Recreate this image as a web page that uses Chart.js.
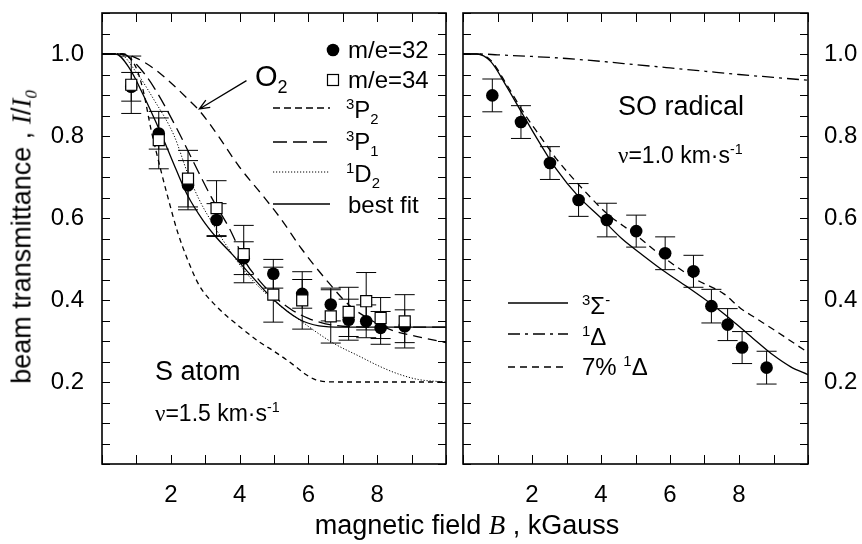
<!DOCTYPE html>
<html>
<head>
<meta charset="utf-8">
<script src="https://cdn.jsdelivr.net/npm/chart.js@4.4.1/dist/chart.umd.min.js"></script>
<style>
body{margin:0;background:#fff;}
#wrap{position:relative;width:862px;height:544px;overflow:hidden;font-family:'Liberation Sans',Arial,sans-serif;color:#000;}
canvas{position:absolute;top:0;}
.t{position:absolute;white-space:nowrap;line-height:1;}
.serif{font-family:'Liberation Serif','Times New Roman',serif;}
sup,sub{font-size:0.62em;line-height:0;}
</style>
</head>
<body>
<div id="wrap">
<canvas id="left" width="455" height="544" style="left:0"></canvas>
<canvas id="right" width="407" height="544" style="left:455px"></canvas>

<div class="t" style="left:22px;top:237px;font-size:27px;transform:translate(-50%,-50%) rotate(-90deg)">beam transmittance , <i class="serif">I</i>/<i class="serif">I<sub>0</sub></i></div>
<div class="t" style="left:467px;top:525px;font-size:27px;transform:translate(-50%,-50%)">magnetic field <i class="serif">B</i> , kGauss</div>

<div class="t" style="left:348px;top:38px;font-size:24px">m/e=32</div>
<div class="t" style="left:348px;top:68px;font-size:24px">m/e=34</div>
<div class="t" style="left:346px;top:98px;font-size:24px"><sup>3</sup>P<sub>2</sub></div>
<div class="t" style="left:346px;top:130px;font-size:24px"><sup>3</sup>P<sub>1</sub></div>
<div class="t" style="left:346px;top:162px;font-size:24px"><sup>1</sup>D<sub>2</sub></div>
<div class="t" style="left:348px;top:193px;font-size:24px">best fit</div>
<div class="t" style="left:255px;top:62px;font-size:29px">O<sub>2</sub></div>
<div class="t" style="left:155px;top:358px;font-size:27px">S atom</div>
<div class="t" style="left:155px;top:402px;font-size:23px"><span class="serif">ν</span>=1.5 km·s<sup>-1</sup></div>

<div class="t" style="left:618px;top:93px;font-size:27px">SO radical</div>
<div class="t" style="left:618px;top:144px;font-size:23px"><span class="serif">ν</span>=1.0 km·s<sup>-1</sup></div>
<div class="t" style="left:582px;top:294px;font-size:24px"><sup>3</sup>Σ<sup>-</sup></div>
<div class="t" style="left:582px;top:325px;font-size:24px"><sup>1</sup>Δ</div>
<div class="t" style="left:582px;top:355px;font-size:24px">7% <sup>1</sup>Δ</div>
</div>

<script>
// S atom, measured points (m/e=32 filled, m/e=34 open)
const fieldB = [0.85, 1.65, 2.5, 3.33, 4.12, 4.98, 5.82, 6.65, 7.17, 7.68, 8.1, 8.8];
const me32 = [0.92, 0.806, 0.68, 0.595, 0.502, 0.464, 0.415, 0.389, 0.352, 0.348, 0.332, 0.336];
const me32Err = [0.035, 0.038, 0.06, 0.04, 0.04, 0.035, 0.035, 0.04, 0.05, 0.04, 0.04, 0.04];
const me34 = [0.925, 0.79, 0.696, 0.624, 0.512, 0.413, 0.399, 0.36, 0.371, 0.397, 0.356, 0.348];
const me34Err = [0.07, 0.07, 0.069, 0.067, 0.07, 0.067, 0.07, 0.065, 0.06, 0.07, 0.05, 0.065];

// S atom model curves
const p2B = [0, 0.5, 0.8, 1.0, 1.2, 1.43, 1.7, 1.91, 2.2, 2.49, 2.83, 3.32, 4.0, 4.57, 5.0, 5.35, 5.7, 5.95, 6.2, 6.5, 7, 8, 9, 10];
const p2T = [1, 1, 0.99, 0.965, 0.91, 0.814, 0.72, 0.652, 0.565, 0.498, 0.435, 0.385, 0.335, 0.298, 0.275, 0.255, 0.233, 0.217, 0.206, 0.201, 0.2, 0.2, 0.2, 0.2];
const p1B = [0, 0.6, 1.0, 1.5, 2.2, 2.64, 3.17, 3.7, 4.19, 4.6, 5.06, 5.5, 6.0, 6.5, 7, 8, 9, 10];
const p1T = [1, 1, 0.975, 0.92, 0.814, 0.74, 0.652, 0.575, 0.49, 0.445, 0.405, 0.377, 0.355, 0.342, 0.336, 0.334, 0.334, 0.334];
const d2B = [0, 0.5, 1.0, 1.5, 2.1, 2.49, 2.83, 3.27, 3.61, 4.19, 4.96, 5.73, 6.7, 7.5, 8.05, 8.6, 9.2, 10];
const d2T = [1, 1, 0.955, 0.89, 0.8, 0.709, 0.644, 0.579, 0.534, 0.466, 0.401, 0.352, 0.296, 0.262, 0.239, 0.22, 0.206, 0.2];
const fitB = [0, 0.4, 0.8, 1.2, 1.72, 2.16, 2.49, 2.93, 3.32, 3.8, 4.28, 4.96, 5.73, 6.31, 7, 8, 9, 10];
const fitT = [1, 1, 0.965, 0.9, 0.805, 0.717, 0.655, 0.595, 0.553, 0.51, 0.465, 0.403, 0.353, 0.337, 0.334, 0.334, 0.334, 0.334];
const o2B = [0, 0.6, 1.0, 1.5, 2.0, 2.5, 2.83, 3.3, 3.99, 4.67, 5.2, 5.8, 6.6, 7.19, 7.8, 8.44, 9.2, 10];
const o2T = [1, 1, 0.99, 0.965, 0.93, 0.89, 0.862, 0.81, 0.725, 0.655, 0.598, 0.525, 0.441, 0.387, 0.352, 0.326, 0.31, 0.296];

// SO radical
const soB = [0.85, 1.68, 2.52, 3.35, 4.17, 5.02, 5.86, 6.68, 7.2, 7.67, 8.09, 8.8];
const soT = [0.899, 0.834, 0.734, 0.644, 0.595, 0.568, 0.514, 0.47, 0.385, 0.34, 0.284, 0.235];
const soErr = [0.04, 0.04, 0.04, 0.04, 0.041, 0.039, 0.04, 0.039, 0.041, 0.039, 0.039, 0.04];
const sigB = [0, 0.4, 0.8, 1.27, 1.75, 2.23, 2.7, 3.35, 4.0, 4.6, 5.2, 5.8, 6.5, 7.2, 7.8, 8.4, 9.0, 9.5, 10];
const sigT = [1, 1, 0.982, 0.92, 0.85, 0.782, 0.72, 0.652, 0.6, 0.55, 0.51, 0.472, 0.432, 0.39, 0.35, 0.307, 0.265, 0.237, 0.218];
const delB = [0, 0.5, 1, 2, 3, 4, 5, 6, 7, 8, 9, 10];
const delT = [1, 1, 0.998, 0.994, 0.989, 0.982, 0.974, 0.966, 0.958, 0.95, 0.943, 0.936];
const mixB = [0, 0.4, 0.8, 1.27, 1.75, 2.23, 2.7, 3.5, 4.17, 4.94, 5.91, 6.78, 7.56, 8.04, 8.5, 9.0, 9.5, 10];
const mixT = [1, 1, 0.985, 0.925, 0.858, 0.8, 0.745, 0.668, 0.611, 0.563, 0.498, 0.449, 0.415, 0.38, 0.355, 0.328, 0.3, 0.272];

const xTickLabels = [2, 4, 6, 8];
const yTickLabels = [0.2, 0.4, 0.6, 0.8, 1.0];

Chart.defaults.font.family = "'Liberation Sans', Arial, sans-serif";
Chart.defaults.color = '#000';

function pts(xs, ys) { return xs.map((x, i) => ({x: x, y: ys[i]})); }

function curve(xs, ys, dash, width) {
    return {
        data: pts(xs, ys), showLine: true, pointRadius: 0, borderColor: '#000',
        borderWidth: width || 1.3, borderDash: dash, cubicInterpolationMode: 'monotone', order: 5
    };
}

// frame with inward ticks on all four sides
const frameTicks = {
    id: 'frameTicks',
    afterDraw(chart) {
        const {ctx, chartArea: a, scales: {x, y}} = chart;
        ctx.save();
        ctx.strokeStyle = '#000';
        ctx.lineWidth = 1;
        ctx.beginPath();
        x.ticks.forEach(t => {
            const px = Math.round(x.getPixelForValue(t.value)) + 0.5;
            ctx.moveTo(px, a.bottom); ctx.lineTo(px, a.bottom - 9);
            ctx.moveTo(px, a.top); ctx.lineTo(px, a.top + 9);
        });
        y.ticks.forEach(t => {
            const py = Math.round(y.getPixelForValue(t.value)) + 0.5;
            ctx.moveTo(a.left, py); ctx.lineTo(a.left + 8, py);
            ctx.moveTo(a.right, py); ctx.lineTo(a.right - 8, py);
        });
        ctx.stroke();
        ctx.lineWidth = 1.6;
        ctx.strokeRect(a.left, a.top, a.width, a.height);
        ctx.restore();
    }
};

// vertical error bars with caps
const errorBars = {
    id: 'errorBars',
    beforeDatasetsDraw(chart) {
        const {ctx, scales: {x, y}} = chart;
        ctx.save();
        ctx.strokeStyle = '#000';
        ctx.lineWidth = 1;
        chart.data.datasets.forEach(ds => {
            if (!ds.errors) return;
            ds.data.forEach((p, i) => {
                const px = x.getPixelForValue(p.x);
                const top = y.getPixelForValue(p.y + ds.errors[i]);
                const bot = y.getPixelForValue(p.y - ds.errors[i]);
                ctx.beginPath();
                ctx.moveTo(px, top); ctx.lineTo(px, bot);
                ctx.moveTo(px - 10, top); ctx.lineTo(px + 10, top);
                ctx.moveTo(px - 10, bot); ctx.lineTo(px + 10, bot);
                ctx.stroke();
            });
        });
        ctx.restore();
    }
};

// key samples and the O2 arrow
const keyMarks = {
    id: 'keyMarks',
    afterDraw(chart, args, opts) {
        const ctx = chart.ctx;
        ctx.save();
        ctx.strokeStyle = '#000';
        (opts.lines || []).forEach(l => {
            ctx.lineWidth = l.w || 1.3;
            ctx.setLineDash(l.dash || []);
            ctx.beginPath(); ctx.moveTo(l.x0, l.y); ctx.lineTo(l.x1, l.y); ctx.stroke();
        });
        ctx.setLineDash([]);
        (opts.marks || []).forEach(m => {
            if (m.kind === 'circle') {
                ctx.fillStyle = '#000';
                ctx.beginPath(); ctx.arc(m.x, m.y, 6.3, 0, Math.PI * 2); ctx.fill();
            } else {
                ctx.fillStyle = '#fff'; ctx.lineWidth = 1.2;
                ctx.fillRect(m.x - 5.5, m.y - 5.5, 11, 11);
                ctx.strokeRect(m.x - 5.5, m.y - 5.5, 11, 11);
            }
        });
        if (opts.arrow) {
            const {x, y} = chart.scales;
            const x0 = x.getPixelForValue(opts.arrow.from[0]), y0 = y.getPixelForValue(opts.arrow.from[1]);
            const x1 = x.getPixelForValue(opts.arrow.to[0]), y1 = y.getPixelForValue(opts.arrow.to[1]);
            const ang = Math.atan2(y1 - y0, x1 - x0);
            ctx.lineWidth = 1.3;
            ctx.beginPath();
            ctx.moveTo(x0, y0); ctx.lineTo(x1, y1);
            ctx.moveTo(x1 - 11 * Math.cos(ang - 0.4), y1 - 11 * Math.sin(ang - 0.4));
            ctx.lineTo(x1, y1);
            ctx.lineTo(x1 - 11 * Math.cos(ang + 0.4), y1 - 11 * Math.sin(ang + 0.4));
            ctx.stroke();
        }
        ctx.restore();
    }
};

function xLabel(v) { return xTickLabels.includes(v) ? String(v) : ''; }
function yLabel(v) {
    const r = Math.round(v * 100) / 100;
    return yTickLabels.includes(r) ? r.toFixed(1) : '';
}

function panelScales(yPos, yWidth) {
    return {
        x: {
            type: 'linear', min: 0, max: 10, position: 'bottom',
            grid: {display: false}, border: {display: false},
            ticks: {stepSize: 1, autoSkip: false, maxRotation: 0, padding: 9, font: {size: 24}, callback: xLabel},
            afterFit(s) { s.height = 80; s.paddingLeft = 0; s.paddingRight = 0; }
        },
        y: {
            type: 'linear', min: 0, max: 1.1, position: yPos,
            grid: {display: false}, border: {display: false},
            ticks: {stepSize: 0.05, autoSkip: false, padding: yPos === 'left' ? 10 : 8, font: {size: 24}, callback: yLabel},
            afterFit(s) { s.width = yWidth; s.paddingTop = 0; s.paddingBottom = 0; }
        }
    };
}

new Chart(document.getElementById('left'), {
    type: 'scatter',
    data: {
        datasets: [
            {data: pts(fieldB, me34), errors: me34Err, pointStyle: 'rect', pointRadius: 7.8,
             backgroundColor: '#fff', borderColor: '#000', borderWidth: 1.2, order: 0},
            {data: pts(fieldB, me32), errors: me32Err, pointStyle: 'circle', pointRadius: 6.3,
             backgroundColor: '#000', borderColor: '#000', borderWidth: 0, order: 1},
            curve(p2B, p2T, [5, 4]),
            curve(p1B, p1T, [13, 6]),
            curve(d2B, d2T, [1.2, 1.8], 1),
            curve(fitB, fitT, []),
            curve(o2B, o2T, [9, 6])
        ]
    },
    options: {
        responsive: false, animation: false, devicePixelRatio: 1,
        layout: {padding: {top: 13, right: 8, left: 0, bottom: 0}},
        scales: panelScales('left', 102),
        plugins: {
            legend: {display: false}, tooltip: {enabled: false},
            keyMarks: {
                lines: [
                    {x0: 273, x1: 330, y: 108, dash: [7, 4]},
                    {x0: 273, x1: 330, y: 142, dash: [14, 6]},
                    {x0: 273, x1: 330, y: 172, dash: [1.2, 1.8], w: 1},
                    {x0: 273, x1: 330, y: 204}
                ],
                marks: [{kind: 'circle', x: 333, y: 50}, {kind: 'square', x: 333, y: 80}],
                arrow: {from: [4.2, 0.935], to: [2.83, 0.866]}
            }
        }
    },
    plugins: [errorBars, frameTicks, keyMarks]
});

new Chart(document.getElementById('right'), {
    type: 'scatter',
    data: {
        datasets: [
            {data: pts(soB, soT), errors: soErr, pointStyle: 'circle', pointRadius: 6.3,
             backgroundColor: '#000', borderColor: '#000', borderWidth: 0, order: 0},
            curve(sigB, sigT, []),
            curve(delB, delT, [12, 5, 3, 5]),
            curve(mixB, mixT, [7, 5])
        ]
    },
    options: {
        responsive: false, animation: false, devicePixelRatio: 1,
        layout: {padding: {top: 13, right: 0, left: 8, bottom: 0}},
        scales: panelScales('right', 54),
        plugins: {
            legend: {display: false}, tooltip: {enabled: false},
            keyMarks: {
                lines: [
                    {x0: 53, x1: 113, y: 303},
                    {x0: 53, x1: 113, y: 334, dash: [12, 5, 3, 5]},
                    {x0: 53, x1: 113, y: 367, dash: [7, 5]}
                ]
            }
        }
    },
    plugins: [errorBars, frameTicks, keyMarks]
});
</script>
</body>
</html>
